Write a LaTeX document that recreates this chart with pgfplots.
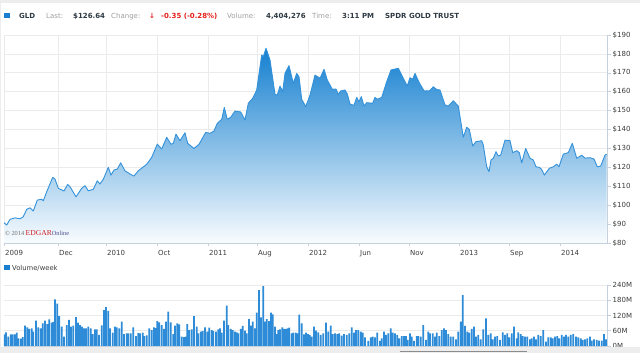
\documentclass[border=0pt]{standalone}
\usepackage{pgfplots}
\pgfplotsset{compat=1.18}
\usepackage{pgfplotstable}
\usepackage{fontspec}
\setmainfont{DejaVu Sans}
\newfontfamily\logofont{Liberation Serif}
\definecolor{gridc}{HTML}{EBEBEB}
\definecolor{axc}{HTML}{C5D2DE}
\definecolor{labc}{HTML}{3C3C3C}
\definecolor{linec}{HTML}{3492DA}
\definecolor{topc}{HTML}{1580D0}
\definecolor{botc}{HTML}{F9FCFE}
\definecolor{barc}{HTML}{2E8BD8}
\definecolor{hgray}{HTML}{A0A0A0}
\definecolor{hdark}{HTML}{2E3A44}
\definecolor{redc}{HTML}{E3211C}
\definecolor{sq}{HTML}{1A7FD0}
\definecolor{stripc}{HTML}{EDEDED}
\definecolor{thumbc}{HTML}{8C8C8C}
\definecolor{logored}{HTML}{D21F26}
\definecolor{logoblue}{HTML}{4B4B8F}
\definecolor{logogray}{HTML}{707070}

\pgfplotstableread{
x y
4 80
4 90.7
6.7 89.5
10 92.5
15 93.3
20 92.8
23.3 93.9
26.7 97.8
30 98.6
33.3 96.9
37.3 102.7
41.7 103.1
43.3 102.3
46.7 107.1
52.7 114.7
55 113.8
58.3 108.9
64 107.5
67.7 111
70 109.8
76 104.4
81.7 108.9
85 110.3
88.3 107.6
93.3 108.4
97.3 112.9
100 111.2
103.3 113.7
108.3 120
111 115.9
114 118.6
117.3 119.1
120.7 122.4
125 118.2
130 116.5
134 115.4
138.3 118.2
146.7 121.6
151.7 125.3
157.3 132.3
161.7 129.7
166.7 135.9
171 132.2
173.3 132.7
176 137.6
180 134.1
185 138.3
187.7 132.7
194 130
199 132.2
205.7 138.5
210 138
214 139.2
217.3 143.3
221.7 145.4
224.3 151.7
227.3 145.4
230.7 146.5
235 149.8
240.7 149.3
245 145
248.3 153.9
252.7 156.5
256.7 160.9
261.7 179.4
263.3 178.5
266 183
270 176.8
275 158.6
277.3 158.2
280 163
282.7 160
285 169.7
289 173.8
293.3 164.4
296.7 169.7
299 167.9
301.7 156
305.7 152.1
310 158.2
315 168.8
320 167.1
324 171.8
327.3 166.2
332.3 161.3
336 161.4
338.3 158.6
340.7 160.4
345 160.9
347.3 158.8
350 153.5
354 152.8
356.7 157
359 154.7
361.3 157.4
364 152.4
366.7 154.2
372.7 153.9
375 157
377.3 156
381.7 157
386.7 165.3
391 171.5
398.3 172.4
403.3 167.1
407.3 163
410 167.4
412.7 166.6
415 169.7
419 165
424 160.5
429.3 160.4
433.3 162.6
436.7 161.2
440 160.9
445 153
448.3 152.4
453.3 155.2
458.3 152.4
463.3 135.9
466.7 141.2
469.3 140.1
472.7 131.3
476 133.6
481.7 134.1
483.3 131.8
486.7 120.3
489 117.7
491 123.9
493.3 124.8
496 128.3
498.3 126
500.7 126.5
505 134.4
510 134.1
512.7 127.8
516.7 128.8
519.3 127.8
521.7 122.4
525.7 130
530 124.8
533.3 123.9
536 120.3
539.3 120
541.7 118.9
544.3 115.9
549.3 119.5
553.3 120.3
556.7 121.7
559 120.3
563.3 127
568.3 127.8
572.3 132.7
576.7 124.8
581.7 126.4
585 124.9
590 125.1
594 124.4
597.3 120.3
600.7 120.7
605 126.5
606.7 126.9
606.7 80
}\price

\pgfplotstableread{
x v
4 45.9
6 53.8
8.3 36.7
10.7 45.9
12.7 45.9
15 45.9
16.7 52.4
18.3 30.2
20.7 28.8
22.7 35.4
25 80
27.3 73.4
29.3 66.9
31.7 69.5
33.3 56.4
36 99.6
38.3 73.4
40.7 69.5
42.7 89.1
45 99.6
47.3 86.5
49.3 104.9
51.7 91.8
53.3 95
55 183.5
57.3 166.5
59.3 118
61.7 76
64 36.7
66.7 82.6
69 102.3
71 76
73.3 80
76 114
78 91.8
80 82.6
82 76
84 69.5
86 69.5
88.3 76
90.7 69.5
92.7 47.2
95 65.6
96.7 65.6
99 43.3
101.7 81.3
104 141.6
106 153.4
108.3 137.7
110 69.5
112.7 52.4
115 76
116.7 73.4
119.3 69.5
121.7 95.7
124 47.2
126.7 49.8
128.3 49.8
130.7 49.8
133.3 73.4
136 39.3
138.3 51.1
140 49.8
142.7 52.4
144.3 39.3
146.7 42
149.3 69.5
151.7 62.9
154 73.4
155.7 70
157.3 98.3
159.3 93.1
161.7 82.6
164 66.9
166 95.7
168.3 135
170.7 93.1
173.3 47.2
175 80
177.3 89.1
179.3 85.2
181.7 36.7
184 35.4
186 36.7
187.3 86.5
189.3 62.9
191.7 65.6
194 118
196.7 76
198.3 49.8
200.7 56.4
202.7 59
205 73.4
207.3 56.4
209.3 72.1
211.7 62.9
213.3 59
216 56.4
218.3 65.6
220 69.5
221.7 52.4
224 99.6
226.7 158.6
228.3 82.6
230.7 66.9
232.7 62.9
235 56.4
236.7 53.8
238.3 49.8
240.7 66.9
242.7 78.7
245 60.3
246.7 49.8
249 106.2
250.7 80
252.7 95.7
255 69.5
256.7 131.1
259 220.2
261 112.7
263.3 236
265 95.7
266.7 106.2
269 98.3
271 131.1
272.7 124.5
275 76
276.7 47.2
278.3 62.9
280 65.6
282.3 73.4
284 66.9
286 66.9
287.7 69.5
289.3 72.1
291.7 49.8
293.3 52.4
295.7 52.4
297.7 49.8
299.3 123.2
301.7 89.1
304 45.9
306 52.4
308 47.2
309.8 43.3
311.7 36.7
314 76
316 60.3
318.3 53.8
320.7 43.3
323.3 49.8
326 91.8
328.3 56.4
330.7 80
332.7 47.2
335 49.8
337.3 47.2
339.3 49.8
341.7 40.6
344 47.2
346.7 43.3
349.3 49.8
351.7 73.4
354 52.4
356 62.9
358.3 62.9
360.7 56.4
362.7 52.4
365 34.1
368.3 19.7
370.7 34.1
372.7 36.7
375 34.1
377.3 52.4
380 19.7
381.7 30.2
384 56.4
386 43.3
388.3 49.8
390.7 69.5
392.7 52.4
395 49.8
397.3 43.3
399.3 30.2
401.7 39.3
404 39.3
406 39.3
407.7 23.6
410 49.8
411.7 36.7
414 19.7
416.7 39.3
418.3 39.3
420.7 36.7
423.3 82.6
426 23.6
428.3 56.4
430 49.8
432.7 49.8
435 36.7
436.7 52.4
439.3 39.3
441.7 62.9
444 69.5
446 62.9
448.3 47.2
450.7 36.7
453.3 36.7
456 26.2
458.3 56.4
460.7 95.7
462.7 200.6
465 78.7
467.3 56.4
469.3 52.4
471.7 66.9
474 76
476 36.7
478.3 43.3
480.7 26.2
483.3 65.6
486 108.8
488.3 43.3
490.7 49.8
492.7 26.2
495 36.7
497.3 39.3
500 23.6
502.7 53.8
505 43.3
507.3 49.8
509.3 34.1
511.7 49.8
514 76
516.7 30.2
518.3 53.8
520.7 47.2
522.7 39.3
525 36.7
527.3 36.7
530 26.2
531.7 30.2
534 36.7
536 26.2
538.3 43.3
540.7 39.3
543.3 62.9
546 17
548.3 34.1
550.7 34.1
552.7 30.2
555 36.7
557.3 39.3
559.3 30.2
561.7 43.3
564 36.7
566 43.3
568.3 36.7
570.7 43.3
573.3 47.2
576 36.7
578.3 34.1
580.7 30.2
582.7 23.6
585 26.2
587.3 30.2
590 36.7
591.7 21
594 26.2
596.7 23.6
599 21
601.7 21
604 47.2
606 26.2
}\vol

\begin{document}
\begin{tikzpicture}[x=1pt,y=1pt]
\useasboundingbox (0,0) rectangle (640,353);
\fill[white] (0,0) rectangle (640,353);
\fill[stripc] (0,350) rectangle (640,353);
\draw[stripc, line width=1pt] (0.5,0) -- (0.5,350);
% header
\fill[sq] (4,334.5) rectangle (9.5,340);
\begin{scope}[every node/.style={anchor=base west, inner sep=0pt, font=\fontsize{7}{8}\selectfont}]
\node[text=hdark] at (19,334.5) {\bfseries GLD};
\node[text=hgray] at (46,334.5) {Last:};
\node[text=hdark] at (73,334.5) {\bfseries \$126.64};
\node[text=hgray] at (111,334.5) {Change:};
\node[text=redc] at (149,334.5) {\bfseries ↓};
\node[text=redc] at (161,334.5) {\bfseries -0.35 (-0.28\%)};
\node[text=hgray] at (227,334.5) {Volume:};
\node[text=hdark] at (266,334.5) {\bfseries 4,404,276};
\node[text=hgray] at (312,334.5) {Time:};
\node[text=hdark] at (342,334.5) {\bfseries 3:11 PM};
\node[text=hdark] at (385,334.5) {\bfseries SPDR GOLD TRUST};
\end{scope}

\begin{axis}[at={(4pt,110pt)}, anchor=south west, scale only axis,
  width=603pt, height=208pt,
  xmin=4, xmax=607, ymin=80, ymax=190,
  axis x line*=bottom, axis y line*=right,
  axis line style={axc, line width=0.8pt, -},
  xtick={4,58,106,157,208,257,308,359,409,459,509,560},
  xticklabels={2009,Dec,2010,Oct,2011,Aug,2012,Jun,Nov,2013,Sep,2014},
  ytick={80,90,...,190},
  yticklabels={\$80,\$90,\$100,\$110,\$120,\$130,\$140,\$150,\$160,\$170,\$180,\$190},
  xmajorgrids, ymajorgrids, grid style={gridc, line width=0.8pt},
  tick style={axc, line width=0.6pt}, tick align=outside, major tick length=3.5pt,
  xticklabel style={anchor=north west, inner sep=0pt, xshift=1pt, yshift=-4pt, font=\fontsize{7}{8}\selectfont, text=labc},
  yticklabel style={anchor=west, inner sep=0pt, xshift=2pt, font=\fontsize{7}{8}\selectfont, text=labc},
]
\addplot[draw=none, top color=topc, bottom color=botc, forget plot] table {\price};
\addplot[linec, line width=0.9pt, line join=round, mark=none, restrict y to domain=81:300] table {\price};
\end{axis}

\node[anchor=base west, inner sep=0pt] at (5,117) {\logofont\fontsize{6.3}{7}\selectfont\color{logogray}© 2014 \fontsize{7.6}{8}\selectfont\color{logored}EDGAR\fontsize{6.3}{7}\selectfont\color{logoblue}Online};

% volume legend
\fill[sq] (4,82.5) rectangle (9.5,88);
\node[anchor=base west, inner sep=0pt, text=labc, font=\fontsize{6.8}{8}\selectfont] at (12,82.5) {Volume/week};

\begin{axis}[at={(4pt,7pt)}, anchor=south west, scale only axis,
  width=603pt, height=61pt,
  xmin=4, xmax=607, ymin=0, ymax=240,
  axis x line*=bottom, axis y line*=right,
  axis line style={axc, line width=0.8pt, -},
  xtick=\empty,
  ytick={0,60,...,240},
  yticklabels={0M,60M,120M,180M,240M},
  ymajorgrids, grid style={gridc, line width=0.8pt},
  tick style={axc, line width=0.6pt}, tick align=outside, major tick length=3.5pt,
  yticklabel style={anchor=west, inner sep=0pt, xshift=2pt, font=\fontsize{7}{8}\selectfont, text=labc},
]
\addplot[ybar, bar width=1.7, fill=barc, draw=none] table {\vol};
\end{axis}

\fill[stripc] (0,0) rectangle (640,5.5);
\draw[thumbc, line width=1pt] (400,1.5) -- (527,1.5);
\end{tikzpicture}
\end{document}
